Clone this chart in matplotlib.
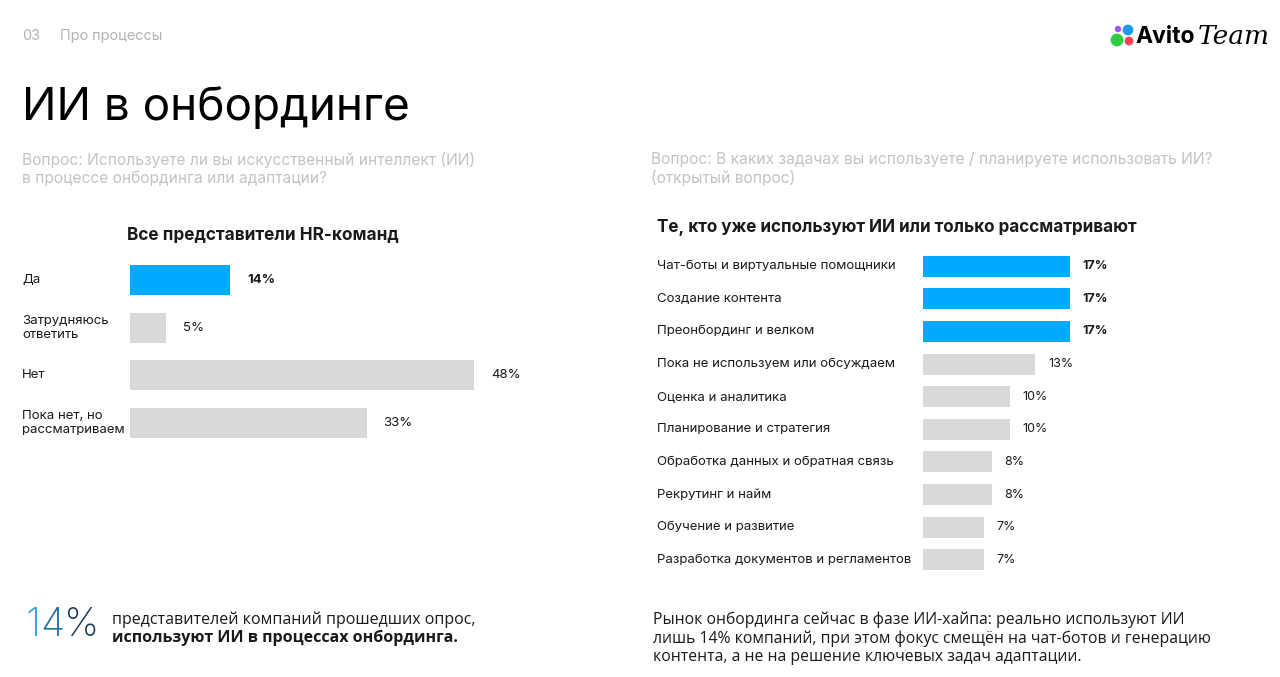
import matplotlib
matplotlib.use("Agg")
import matplotlib.pyplot as plt
from matplotlib.patches import Circle

# ---------------- data ----------------
left_categories = ["Да", "Затрудняюсь\nответить", "Нет", "Пока нет, но\nрассматриваем"]
left_values = [14, 5, 48, 33]
left_labels = ["14%", "5%", "48%", "33%"]
left_highlight = [True, False, False, False]

right_categories = [
    "Чат-боты и виртуальные помощники",
    "Создание контента",
    "Преонбординг и велком",
    "Пока не используем или обсуждаем",
    "Оценка и аналитика",
    "Планирование и стратегия",
    "Обработка данных и обратная связь",
    "Рекрутинг и найм",
    "Обучение и развитие",
    "Разработка документов и регламентов",
]
right_values = [17, 17, 17, 13, 10, 10, 8, 8, 7, 7]
right_labels = ["17%", "17%", "17%", "13%", "10%", "10%", "8%", "8%", "7%", "7%"]
right_highlight = [True, True, True, False, False, False, False, False, False, False]

# ---------------- style ----------------
W, H = 1280, 677
FONT = ["Inter", "DejaVu Sans"]
plt.rcParams["font.family"] = FONT
BLUE = "#00aaff"
GREY_BAR = "#d9d9d9"
TXT = "#1a1a1a"
LIGHT = "#c4c4c4"

fig = plt.figure(figsize=(W / 100, H / 100), dpi=100)
fig.patch.set_facecolor("white")


def fx(px):
    return px / W


def fy(py):
    return 1 - py / H


def ax_rect(x0, y0, x1, y1):
    return [fx(x0), fy(y1), fx(x1) - fx(x0), fy(y0) - fy(y1)]


# ---------------- header ----------------
fig.text(fx(22), fy(36), "03", fontsize=10.4, color="#b3b3b3", va="center")
fig.text(fx(60), fy(36), "Про процессы", fontsize=10.4, color="#b3b3b3", va="center")
fig.text(fx(22), fy(107), "ИИ в онбординге", fontsize=33, color="black", va="center")

fig.text(fx(22), fy(169), "Вопрос: Используете ли вы искусственный интеллект (ИИ)\nв процессе онбординга или адаптации?",
         fontsize=11.2, color=LIGHT, va="center", linespacing=1.2)
fig.text(fx(651), fy(169), "Вопрос: В каких задачах вы используете / планируете использовать ИИ?\n(открытый вопрос)",
         fontsize=11.2, color=LIGHT, va="center", linespacing=1.2)

# logo
logo_ax = fig.add_axes([0, 0, 1, 1], zorder=-1)
logo_ax.set_xlim(0, W)
logo_ax.set_ylim(H, 0)
logo_ax.axis("off")
for (cx, cy, r, c) in [(1118, 29, 3.2, "#9b59f5"), (1128, 30, 5.4, "#1e9bf0"),
                       (1117, 40, 6.4, "#2ecc40"), (1129, 41, 4.4, "#ff4053")]:
    logo_ax.add_patch(Circle((cx, cy), r, color=c, lw=0))
fig.text(fx(1135), fy(37), "Avito", fontsize=16.5, fontweight="bold", color="black", va="center")
fig.text(fx(1198), fy(37), "Team", fontsize=19, fontstyle="italic", color="black", va="center",
         family=["DejaVu Serif"], fontweight="light")

# ---------------- left chart ----------------
fig.text(fx(263), fy(236), "Все представители HR-команд", fontsize=12.4, fontweight="bold",
         color=TXT, ha="center", va="center")

axL = fig.add_axes(ax_rect(130, 256, 560, 447))
yL = list(range(len(left_categories)))
colsL = [BLUE if h else GREY_BAR for h in left_highlight]
barsL = axL.barh(yL, left_values, height=0.63, color=colsL)
axL.set_xlim(0, 430 / 7.17)
axL.set_ylim(len(left_categories) - 0.5, -0.5)
axL.axis("off")
for b, lab, h in zip(barsL, left_labels, left_highlight):
    axL.annotate(lab, (b.get_width(), b.get_y() + b.get_height() / 2), xytext=(12, 0),
                 textcoords="offset points", va="center", ha="left", fontsize=9.5,
                 fontweight="bold" if h else "normal", color=TXT)
for y, cat in zip(yL, left_categories):
    axL.annotate(cat, (0, y), xycoords="data", xytext=(22 - 130, 0),
                 textcoords="offset pixels", va="center", ha="left", fontsize=9.5,
                 color=TXT, linespacing=1.2)

# ---------------- right chart ----------------
fig.text(fx(657), fy(228), "Те, кто уже используют ИИ или только рассматривают", fontsize=12.3,
         fontweight="bold", color=TXT, ha="left", va="center")

axR = fig.add_axes(ax_rect(923, 250, 1270, 576))
yR = list(range(len(right_categories)))
colsR = [BLUE if h else GREY_BAR for h in right_highlight]
barsR = axR.barh(yR, right_values, height=0.645, color=colsR)
axR.set_xlim(0, 347 / 8.65)
axR.set_ylim(len(right_categories) - 0.5, -0.5)
axR.axis("off")
for b, lab, h in zip(barsR, right_labels, right_highlight):
    axR.annotate(lab, (b.get_width(), b.get_y() + b.get_height() / 2), xytext=(9, 0),
                 textcoords="offset points", va="center", ha="left", fontsize=9,
                 fontweight="bold" if h else "normal", color=TXT)
for y, cat in zip(yR, right_categories):
    axR.annotate(cat, (0, y), xycoords="data", xytext=(657 - 923, 0),
                 textcoords="offset pixels", va="center", ha="left", fontsize=9.5, color=TXT)

# ---------------- bottom ----------------
t1 = fig.text(fx(25), fy(626), "1", fontsize=28.5, color="#29a3db", va="center", fontweight="light")
t2 = fig.text(0, 0, "4", fontsize=28.5, color="#1c6e9e", va="center", fontweight="light")
t3 = fig.text(0, 0, "%", fontsize=28.5, color="#17365e", va="center", fontweight="light")
fig.canvas.draw()
r = fig.canvas.get_renderer()
bb = t1.get_window_extent(r)
t2.set_position((bb.x1 / W, fy(626)))
fig.canvas.draw()
bb = t2.get_window_extent(r)
t3.set_position((bb.x1 / W, fy(626)))

fig.text(fx(112), fy(620), "представителей компаний прошедших опрос,", fontsize=11.5, color=TXT, va="center",
         family=["Open Sans", "DejaVu Sans"])
fig.text(fx(112), fy(638), "используют ИИ в процессах онбординга.", fontsize=11.5, color=TXT, va="center",
         fontweight="bold", family=["Open Sans", "DejaVu Sans"])

fig.text(fx(653), fy(638),
         "Рынок онбординга сейчас в фазе ИИ-хайпа: реально используют ИИ\n"
         "лишь 14% компаний, при этом фокус смещён на чат-ботов и генерацию\n"
         "контента, а не на решение ключевых задач адаптации.",
         fontsize=11.3, color=TXT, va="center", linespacing=1.17, family=["Open Sans", "DejaVu Sans"])

fig.savefig("out.png", dpi=100, facecolor="white")
